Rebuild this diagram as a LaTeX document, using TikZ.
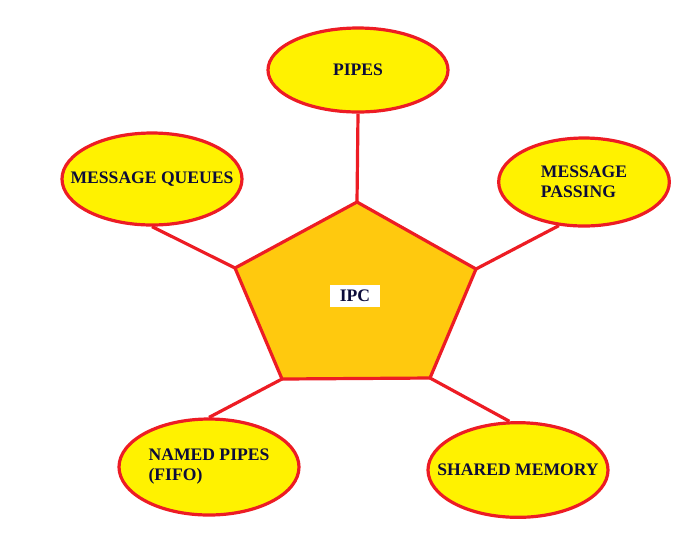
\documentclass[tikz,border=0pt]{standalone}
\usepackage{fontspec}
\setmainfont{Liberation Serif}
\usetikzlibrary{shapes.geometric}
\definecolor{paintred}{RGB}{237,28,36}
\definecolor{paintyellow}{RGB}{255,242,0}
\definecolor{paintgold}{RGB}{255,201,14}
\definecolor{inkblue}{RGB}{12,12,58}
\begin{document}
\begin{tikzpicture}[x=0.75pt,y=-0.75pt,
  bubble/.style={draw=paintred,line width=2.4pt,fill=paintyellow,ellipse,inner xsep=-16pt,inner ysep=0pt,
    text=inkblue,font=\bfseries\fontsize{13.2}{15}\selectfont,align=left},
  link/.style={draw=paintred,line width=2.4pt}]
\useasboundingbox (0,0) rectangle (680,537);
\node[bubble,minimum width=135pt,minimum height=63pt](pipes) at (358,70){PIPES};
\node[bubble,minimum width=135pt,minimum height=69pt](mq) at (152,179){MESSAGE QUEUES};
\node[bubble,minimum width=128pt,minimum height=66pt](mp) at (584,182){MESSAGE\\PASSING};
\node[bubble,minimum width=135pt,minimum height=72pt](np) at (209,467){NAMED PIPES\\(FIFO)};
\node[bubble,minimum width=135pt,minimum height=71pt](sm) at (518,470){SHARED MEMORY};
\coordinate(p1) at (357,202);
\coordinate(p2) at (476,269);
\coordinate(p3) at (430,378);
\coordinate(p4) at (282,379);
\coordinate(p5) at (235,268);
\draw[link] (pipes.south)--(p1) (mq.south)--(p5) (mp.240)--(p2) (np.north)--(p4) (sm.100)--(p3);
\filldraw[draw=paintred,fill=paintgold,line width=2.4pt] (p1)--(p2)--(p3)--(p4)--(p5)--cycle;
\node[fill=white,inner sep=0pt,minimum width=37.5pt,minimum height=16.5pt,text=inkblue,
  font=\bfseries\fontsize{13.2}{15}\selectfont](ipc) at (355,296){IPC};
\end{tikzpicture}
\end{document}
